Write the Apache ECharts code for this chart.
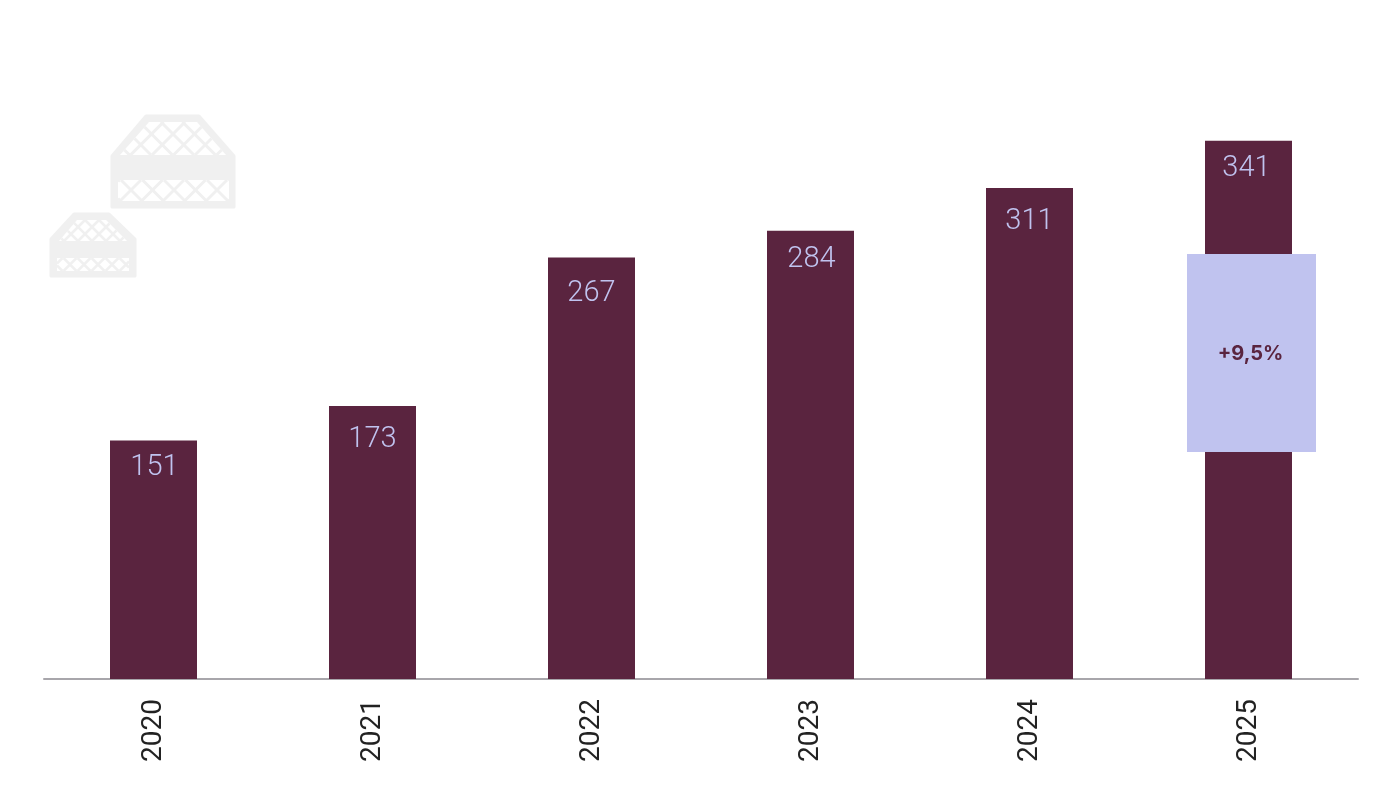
<!DOCTYPE html>
<html><head><meta charset="utf-8">
<style>html,body{margin:0;padding:0;background:#fff}#c{width:1400px;height:800px}</style>
<script src="https://cdn.jsdelivr.net/npm/echarts@6/dist/echarts.min.js"></script>
</head><body><div id="c"></div>
<script>
const categories = ['2020','2021','2022','2023','2024','2025'];
const values = [151,173,267,284,311,341];
const changeLabel = '+9,5%';
const labelNudges = [[1,4],[0,10],[0,13],[1,6],[0,10],[-2,5]];

const BAR='#5a243f', LILAC='#c0c3ef', GREY='#f0f0f0';

function clipLine(p1,p2,poly){
  let t0=0,t1=1; const dx=p2[0]-p1[0],dy=p2[1]-p1[1];
  for(let i=0;i<poly.length;i++){
    const a=poly[i],b=poly[(i+1)%poly.length];
    const nx=-(b[1]-a[1]),ny=b[0]-a[0];
    const d=nx*dx+ny*dy,n=nx*(p1[0]-a[0])+ny*(p1[1]-a[1]);
    if(d===0){ if(n<0) return null; continue; }
    const t=-n/d;
    if(d>0) t0=Math.max(t0,t); else t1=Math.min(t1,t);
    if(t0>t1) return null;
  }
  return [[p1[0]+dx*t0,p1[1]+dy*t0],[p1[0]+dx*t1,p1[1]+dy*t1]];
}
function lattice(poly,cx,cy,step,lw){
  const out=[];
  for(let k=-12;k<=12;k++){
    const x=cx+k*step;
    [[[x-60,cy-60],[x+60,cy+60]],[[x-60,cy+60],[x+60,cy-60]]].forEach(([a,b])=>{
      const s=clipLine(a,b,poly);
      if(s) out.push({type:'line',silent:true,shape:{x1:s[0][0],y1:s[0][1],x2:s[1][0],y2:s[1][1]},style:{stroke:GREY,lineWidth:lw}});
    });
  }
  return out;
}
function crate(o){
  const els=[];
  els.push({type:'polygon',silent:true,shape:{points:o.outer},style:{fill:GREY,stroke:GREY,lineWidth:3,lineJoin:'round'}});
  [o.up,o.low].forEach(poly=>els.push({type:'polygon',silent:true,shape:{points:poly},style:{fill:'#fff'}}));
  els.push(...lattice(o.up,o.upC[0],o.upC[1],o.step,o.lw));
  els.push(...lattice(o.low,o.lowC[0],o.lowC[1],o.step,o.lw));
  return els;
}
const crateBig=crate({
  outer:[[146,116],[199,116],[234,156],[234,207],[112,207],[112,156]],
  up:[[149,122],[197,122],[226,155],[120,155]],
  low:[[118,180],[229,180],[229,201],[118,201]],
  upC:[173,134],lowC:[131,190],step:21.5,lw:3});
const crateSmall=crate({
  outer:[[74,214],[109,214],[135,239],[135,276],[51,276],[51,239]],
  up:[[77,220],[106,220],[127,241],[59,241]],
  low:[[57,258],[129,258],[129,271],[57,271]],
  upC:[92,227],lowC:[70,264.5],step:14,lw:2.5});

const chart=echarts.init(document.getElementById('c'),null,{renderer:'canvas'});
chart.setOption({
  animation:false,
  backgroundColor:'#fff',
  grid:{left:44,right:42,top:47.5,bottom:121},
  xAxis:{type:'category',data:categories,
    axisLine:{lineStyle:{color:'#a8a6ab',width:2}},
    axisTick:{show:false},
    axisLabel:{rotate:90,margin:20,padding:[0,0,0,0],color:'#222',fontFamily:'Roboto',fontWeight:400,fontSize:28,
      formatter:v=>v,lineHeight:28,verticalAlign:'middle',offset:[2,0]}},
  yAxis:{type:'value',min:0,max:400,show:false,splitLine:{show:false}},
  series:[{type:'bar',barWidth:87,itemStyle:{color:BAR},
    data:values.map((v,i)=>({value:v,label:{offset:labelNudges[i]}})),
    label:{show:true,position:'insideTop',distance:9,color:LILAC,fontFamily:'Roboto',fontWeight:300,fontSize:29}}],
  graphic:[
    ...crateBig,...crateSmall,
    {type:'rect',z:100,shape:{x:1187,y:254,width:129,height:198},style:{fill:LILAC}},
    {type:'text',z:101,x:1250.5,y:354,style:{text:changeLabel,fill:BAR,font:'700 20px Inter',align:'center',verticalAlign:'middle'}}
  ]
});
</script></body></html>
